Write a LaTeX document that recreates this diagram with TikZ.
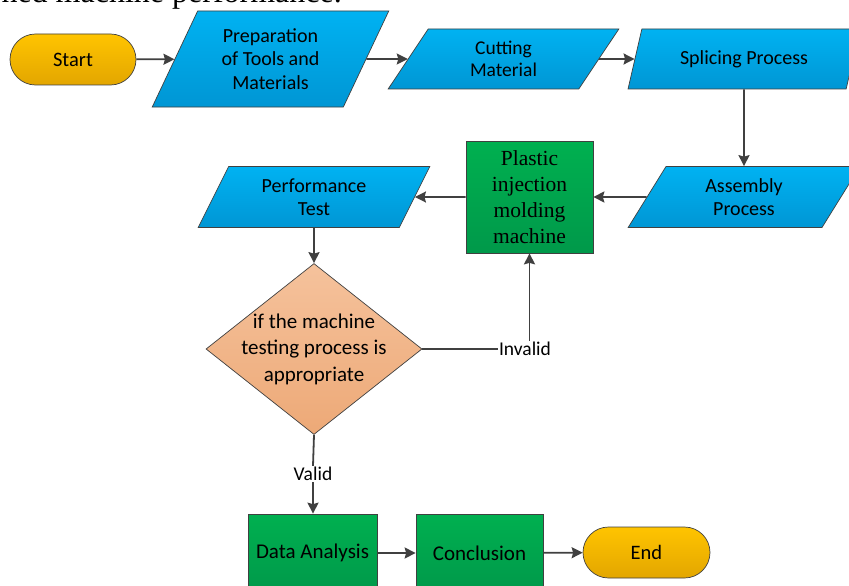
\documentclass[tikz,border=0pt]{standalone}
\usepackage{fontspec}
\setmainfont{Carlito}
\newfontfamily\serifx{Liberation Serif}
\usetikzlibrary{shapes.geometric,shapes.misc,arrows.meta}
\definecolor{lineg}{HTML}{404040}
\definecolor{blueT}{HTML}{00B2F2}
\definecolor{blueB}{HTML}{0096D4}
\definecolor{greenT}{HTML}{00B050}
\definecolor{greenB}{HTML}{00994A}
\definecolor{orT}{HTML}{F5C29C}
\definecolor{orB}{HTML}{EDA977}
\definecolor{yelT}{HTML}{FFC400}
\definecolor{yelB}{HTML}{E3A600}
\tikzset{
  iobox/.style={trapezium, trapezium left angle=63.43, trapezium right angle=116.57,
    trapezium stretches=true, draw=lineg, line width=0.7pt, top color=blueT, bottom color=blueB,
    inner sep=0pt, align=center, font=\fontsize{20}{23.5}\selectfont},
  procbox/.style={rectangle, draw=lineg, line width=0.7pt, top color=greenT, bottom color=greenB,
    inner sep=0pt, align=center, font=\fontsize{21}{24}\selectfont},
  termbox/.style={rounded rectangle, draw=lineg, line width=0.7pt, top color=yelT, bottom color=yelB,
    inner sep=0pt, minimum width=126pt, minimum height=51pt, font=\fontsize{20.5}{24}\selectfont},
  decbox/.style={diamond, draw=lineg, line width=0.7pt, top color=orT, bottom color=orB,
    inner sep=0pt, minimum width=216pt, minimum height=171pt},
  lbl/.style={inner sep=1pt, font=\fontsize{19.5}{23}\selectfont},
  arr/.style={draw=lineg, line width=1.8pt, -{Stealth[length=11pt,width=11pt,inset=1.5pt]}},
  ln/.style={draw=lineg, line width=1.8pt}
}
\begin{document}
\begin{tikzpicture}[x=1pt,y=-1pt]
\useasboundingbox (0,0) rectangle (849,586);
\clip (0,0) rectangle (849,586);
\fill[white] (0,0) rectangle (849,586);

\node[font=\serifx\fontsize{32}{32}\selectfont, anchor=base east, inner sep=0pt] (cap) at (342,2.5) {ned machine performance.};

\node[termbox] (start) at (73,59.5) {Start};
\node[iobox, minimum width=237pt, minimum height=96pt] (prep) at (270.5,59) {Preparation\\of Tools and\\Materials};
\node[iobox, minimum width=231pt, minimum height=60pt, font=\fontsize{19.5}{22}\selectfont] (cut) at (503.5,59) {Cutting\\Material};
\node[iobox, minimum width=232pt, minimum height=60pt] (spl) at (744,59) {Splicing Process};
\node[iobox, minimum width=232pt, minimum height=61pt] (asm) at (744,197) {Assembly\\Process};
\node[procbox, minimum width=127pt, minimum height=112pt, font=\serifx\fontsize{21.5}{26}\selectfont] (pim) at (529.5,197) {Plastic\\injection\\molding\\machine};
\node[iobox, minimum width=232pt, minimum height=61pt] (perf) at (314,197) {Performance\\Test};
\node[decbox, label={[align=center, font=\fontsize{21}{26.5}\selectfont]center:if the machine\\testing process is\\appropriate}] (dec) at (314,349) {};
\node[lbl] (inv) at (525,349) {Invalid};
\node[lbl] (val) at (313,474) {Valid};
\node[procbox, minimum width=129pt, minimum height=78pt] (data) at (312.5,553) {Data Analysis};
\node[procbox, minimum width=127pt, minimum height=78pt] (conc) at (479.5,553) {Conclusion};
\node[termbox, minimum width=127pt] (end) at (646.5,552.5) {End};

\draw[arr] (start) -- (prep);
\draw[arr] (prep) -- (cut);
\draw[arr] (cut) -- (spl);
\draw[arr] (spl) -- (asm);
\draw[arr] (asm) -- (pim);
\draw[arr] (pim) -- (perf);
\draw[arr] (perf) -- (dec);
\draw[ln] (dec.east) -- (inv.west);
\draw[arr] (inv.north -| pim.south) -- (pim.south);
\draw[ln] (dec.south) -- (val.north);
\draw[arr] (val.south) -- (val.south |- data.north);
\draw[arr] (data) -- (conc);
\draw[arr] (conc) -- (end);
\end{tikzpicture}
\end{document}
